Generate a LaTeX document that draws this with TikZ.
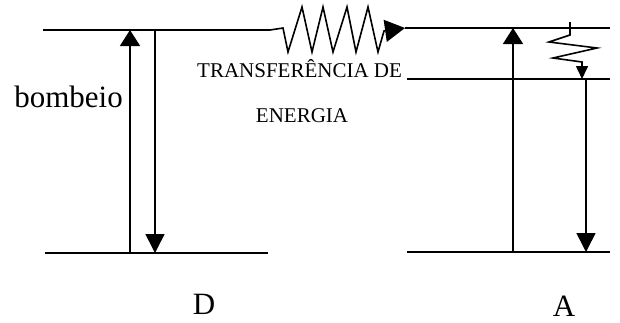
\documentclass[tikz,border=0pt]{standalone}
\usepackage{fontspec}
\setmainfont{Liberation Serif}
\usepackage{tikz}
\usetikzlibrary{arrows.meta, calc}

\tikzset{
  level/.style={line width=1.6pt},
  pump/.style={line width=1.6pt, -{Triangle[length=16pt, width=20pt]}},
  emit/.style={line width=1.6pt, -{Triangle[length=19pt, width=19pt]}},
  zig/.style={line width=1.6pt, line join=miter},
  biglabel/.style={font=\fontsize{31}{31}\selectfont, inner sep=0pt},
  smalllabel/.style={font=\fontsize{21}{21}\selectfont, inner sep=0pt},
}

\begin{document}
\begin{tikzpicture}[x=1pt, y=-1pt]
  \useasboundingbox (0,0) rectangle (620,322);

  % niveis de D
  \coordinate (dtopl) at (43,30);
  \coordinate (dtopr) at (270,30);
  \coordinate (dbotl) at (45,253);
  \coordinate (dbotr) at (268,253);
  \draw[level] (dtopl) -- (dtopr);
  \draw[level] (dbotl) -- (dbotr);

  % niveis de A
  \coordinate (atopl) at (405,28);
  \coordinate (atopr) at (610,28);
  \coordinate (amidl) at (407,79);
  \coordinate (amidr) at (610,79);
  \coordinate (abotl) at (407,252);
  \coordinate (abotr) at (610,252);
  \draw[level] (atopl) -- (atopr);
  \draw[level] (amidl) -- (amidr);
  \draw[level] (abotl) -- (abotr);

  % bombeio e emissao em D
  \coordinate (pumpbot) at (130,253);
  \coordinate (pumptop) at (130,30);
  \coordinate (dfalltop) at (155,30);
  \coordinate (dfallbot) at (155,253);
  \draw[pump] (pumpbot) -- (pumptop);
  \draw[emit] (dfalltop) -- (dfallbot);

  % A
  \coordinate (aupbot) at (513,252);
  \coordinate (auptop) at (513,28);
  \coordinate (afalltop) at (586,79);
  \coordinate (afallbot) at (586,252);
  \draw[pump] (aupbot) -- (auptop);
  \draw[emit] (afalltop) -- (afallbot);

  % transferencia
  \draw[zig, -{Triangle[length=20pt, width=22pt]}] (dtopr) -- (283,28)
    -- (288,52) -- (302,7) -- (312,52) -- (323,7) -- (333,52)
    -- (347,7) -- (356,52) -- (368,7) -- (378,52) -- (384,31) -- (atopl);

  % relaxacao em A
  \coordinate (relaxtop) at (570,22);
  \coordinate (relaxbot) at (582,79);
  \draw[zig, -{Triangle[length=13pt, width=12pt]}] (relaxtop) -- (570,35)
    -- (549,42) -- (597,48) -- (553,58) -- (582,62) -- (relaxbot);

  % textos
  \node[biglabel, anchor=base east] (bomb) at (123,107) {bombeio};
  \node[smalllabel, anchor=base west] (transf) at (197,77) {TRANSFERÊNCIA DE};
  \node[smalllabel, anchor=base] (energ) at (302,122) {ENERGIA};
  \node[biglabel, anchor=base] (dlabel) at (204,314) {D};
  \node[biglabel, anchor=base] (alabel) at (564,316) {A};
\end{tikzpicture}
\end{document}
